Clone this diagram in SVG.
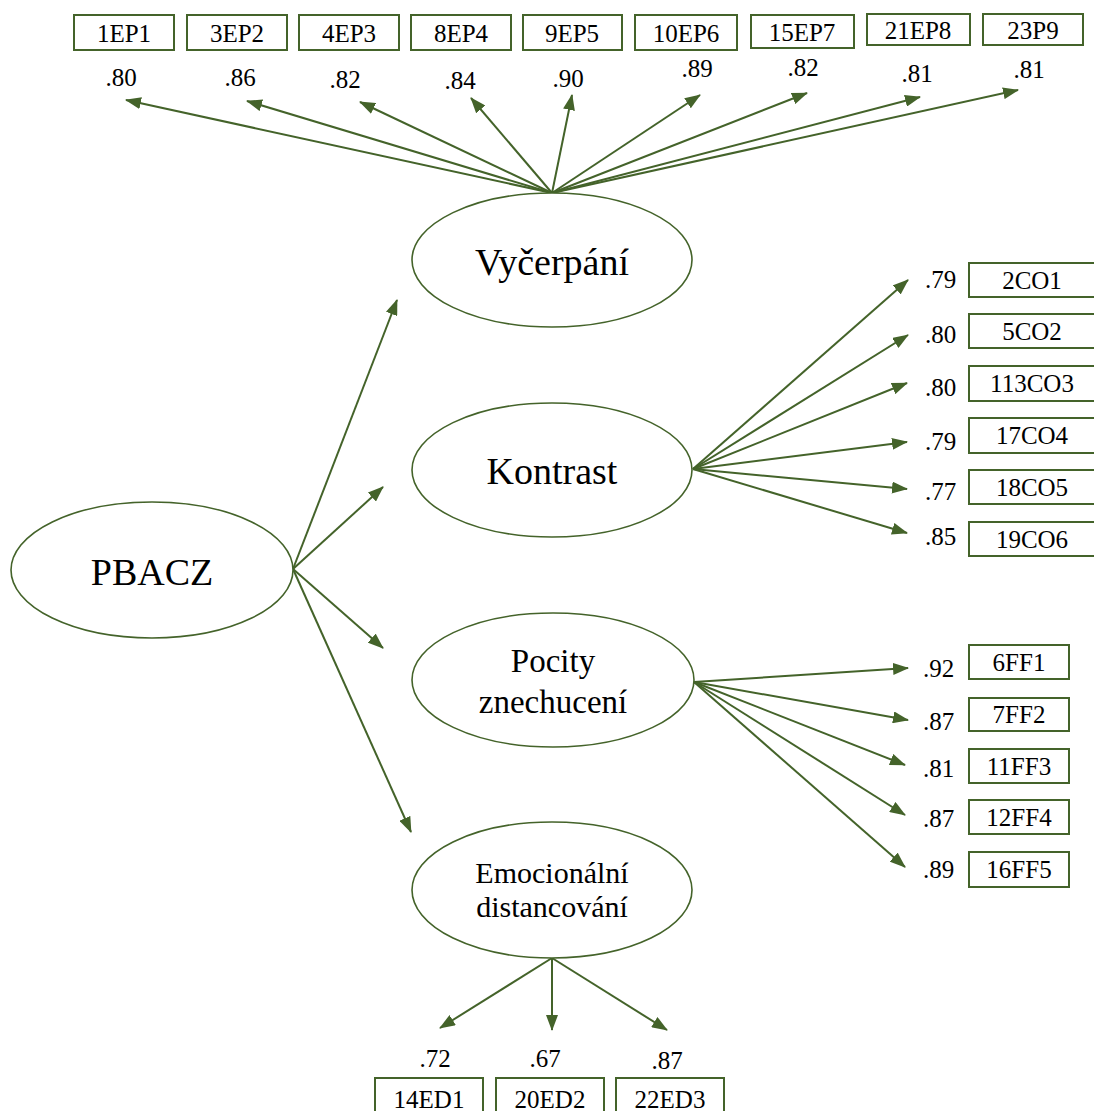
<svg xmlns="http://www.w3.org/2000/svg" width="1094" height="1111" viewBox="0 0 1094 1111">
<style>
.bg{fill:#ffffff}
.box{fill:#ffffff;stroke:#44632a;stroke-width:2}
.ell{fill:#ffffff;stroke:#44632a;stroke-width:1.6}
.t{font-family:"Liberation Serif","Times New Roman",serif;fill:#000000;text-anchor:middle}
.bt{font-size:25px}
.lb{font-size:25px}
.lbl{font-family:"Liberation Serif","Times New Roman",serif;fill:#000000;font-size:25px}
.big{font-size:38px}
.mid{font-size:33px}
.sm{font-size:30px}
.c line{stroke:#44632a;stroke-width:2;marker-end:url(#ah)}
</style>
<defs>
<marker id="ah" viewBox="0 0 16 12" refX="15" refY="6" markerWidth="16" markerHeight="12" orient="auto" markerUnits="userSpaceOnUse">
<path d="M0,0 L16,6 L0,12 z" fill="#44632a"/>
</marker>
</defs>
<rect class="bg" x="0" y="0" width="1094" height="1111"/>
<g class="c" id="connectors">
<line x1="552" y1="193" x2="126" y2="100"/>
<line x1="552" y1="193" x2="247" y2="101"/>
<line x1="552" y1="193" x2="360" y2="102"/>
<line x1="552" y1="193" x2="471" y2="98"/>
<line x1="552" y1="193" x2="572" y2="95"/>
<line x1="552" y1="193" x2="700" y2="95"/>
<line x1="552" y1="193" x2="807" y2="93"/>
<line x1="552" y1="193" x2="920" y2="97"/>
<line x1="552" y1="193" x2="1018" y2="90"/>
<line x1="293" y1="569" x2="397" y2="300"/>
<line x1="293" y1="569" x2="383" y2="487"/>
<line x1="293" y1="569" x2="383" y2="648"/>
<line x1="293" y1="569" x2="411" y2="832"/>
<line x1="693" y1="469" x2="908" y2="280"/>
<line x1="693" y1="469" x2="908" y2="335"/>
<line x1="693" y1="469" x2="907" y2="383"/>
<line x1="693" y1="469" x2="907" y2="442"/>
<line x1="693" y1="469" x2="907" y2="489"/>
<line x1="693" y1="469" x2="907" y2="533"/>
<line x1="694" y1="682" x2="908" y2="668"/>
<line x1="694" y1="682" x2="908" y2="720"/>
<line x1="694" y1="682" x2="905" y2="765"/>
<line x1="694" y1="682" x2="905" y2="815"/>
<line x1="694" y1="682" x2="905" y2="867"/>
<line x1="552" y1="958" x2="440" y2="1028"/>
<line x1="552" y1="958" x2="552" y2="1030"/>
<line x1="552" y1="958" x2="667" y2="1030"/>
</g>
<g id="PBACZ"><ellipse class="ell" cx="152" cy="570" rx="141" ry="68"/><text class="t big" x="152" y="585">PBACZ</text></g>
<g id="Vycerpani"><ellipse class="ell" cx="552" cy="260" rx="140" ry="67"/><text class="t big" x="552" y="275">Vyčerpání</text></g>
<g id="Kontrast"><ellipse class="ell" cx="552" cy="470" rx="140" ry="67"/><text class="t big" x="552" y="484">Kontrast</text></g>
<g id="Pocity"><ellipse class="ell" cx="553" cy="680" rx="141" ry="67"/><text class="t mid" x="553" y="672">Pocity</text><text class="t mid" x="553" y="713">znechucení</text></g>
<g id="Emocionalni"><ellipse class="ell" cx="552" cy="890" rx="140" ry="68"/><text class="t sm" x="552" y="883">Emocionální</text><text class="t sm" x="552" y="917">distancování</text></g>
<g id="EP1"><rect class="box" x="74" y="15" width="100" height="35"/><text class="t bt" x="124" y="42">1EP1</text><text class="t lb" x="121" y="86">.80</text></g>
<g id="EP2"><rect class="box" x="187" y="15" width="100" height="35"/><text class="t bt" x="237" y="42">3EP2</text><text class="t lb" x="240" y="86">.86</text></g>
<g id="EP3"><rect class="box" x="299" y="15" width="100" height="35"/><text class="t bt" x="349" y="42">4EP3</text><text class="t lb" x="345" y="88">.82</text></g>
<g id="EP4"><rect class="box" x="411" y="15" width="100" height="35"/><text class="t bt" x="461" y="42">8EP4</text><text class="t lb" x="460" y="89">.84</text></g>
<g id="EP5"><rect class="box" x="523" y="15" width="99" height="35"/><text class="t bt" x="572" y="42">9EP5</text><text class="t lb" x="568" y="87">.90</text></g>
<g id="EP6"><rect class="box" x="635" y="15" width="102" height="35"/><text class="t bt" x="686" y="42">10EP6</text><text class="t lb" x="697" y="77">.89</text></g>
<g id="EP7"><rect class="box" x="751" y="15" width="103" height="33"/><text class="t bt" x="802" y="41">15EP7</text><text class="t lb" x="803" y="76">.82</text></g>
<g id="EP8"><rect class="box" x="867" y="14" width="103" height="31"/><text class="t bt" x="918" y="39">21EP8</text><text class="t lb" x="917" y="82">.81</text></g>
<g id="P9"><rect class="box" x="983" y="14" width="100" height="31"/><text class="t bt" x="1033" y="39">23P9</text><text class="t lb" x="1029" y="78">.81</text></g>
<g id="CO1"><rect class="box" x="969" y="263" width="130" height="34"/><text class="t bt" x="1032" y="289">2CO1</text><text class="lbl" x="925" y="288">.79</text></g>
<g id="CO2"><rect class="box" x="969" y="314" width="130" height="34"/><text class="t bt" x="1032" y="340">5CO2</text><text class="lbl" x="925" y="343">.80</text></g>
<g id="CO3"><rect class="box" x="969" y="366" width="130" height="35"/><text class="t bt" x="1032" y="392">113CO3</text><text class="lbl" x="925" y="396">.80</text></g>
<g id="CO4"><rect class="box" x="969" y="418" width="130" height="35"/><text class="t bt" x="1032" y="444">17CO4</text><text class="lbl" x="925" y="450">.79</text></g>
<g id="CO5"><rect class="box" x="969" y="470" width="130" height="34"/><text class="t bt" x="1032" y="496">18CO5</text><text class="lbl" x="925" y="500">.77</text></g>
<g id="CO6"><rect class="box" x="969" y="522" width="130" height="34"/><text class="t bt" x="1032" y="548">19CO6</text><text class="lbl" x="925" y="545">.85</text></g>
<g id="FF1"><rect class="box" x="969" y="645" width="100" height="34"/><text class="t bt" x="1019" y="671">6FF1</text><text class="lbl" x="923" y="677">.92</text></g>
<g id="FF2"><rect class="box" x="969" y="698" width="100" height="33"/><text class="t bt" x="1019" y="723">7FF2</text><text class="lbl" x="923" y="730">.87</text></g>
<g id="FF3"><rect class="box" x="969" y="749" width="100" height="34"/><text class="t bt" x="1019" y="775">11FF3</text><text class="lbl" x="923" y="777">.81</text></g>
<g id="FF4"><rect class="box" x="969" y="800" width="100" height="34"/><text class="t bt" x="1019" y="826">12FF4</text><text class="lbl" x="923" y="827">.87</text></g>
<g id="FF5"><rect class="box" x="969" y="852" width="100" height="35"/><text class="t bt" x="1019" y="878">16FF5</text><text class="lbl" x="923" y="878">.89</text></g>
<g id="ED1"><rect class="box" x="375" y="1078" width="108" height="40"/><text class="t bt" x="429" y="1108">14ED1</text><text class="t lb" x="435" y="1067">.72</text></g>
<g id="ED2"><rect class="box" x="496" y="1078" width="108" height="40"/><text class="t bt" x="550" y="1108">20ED2</text><text class="t lb" x="545" y="1067">.67</text></g>
<g id="ED3"><rect class="box" x="616" y="1078" width="108" height="40"/><text class="t bt" x="670" y="1108">22ED3</text><text class="t lb" x="667" y="1069">.87</text></g>
</svg>
